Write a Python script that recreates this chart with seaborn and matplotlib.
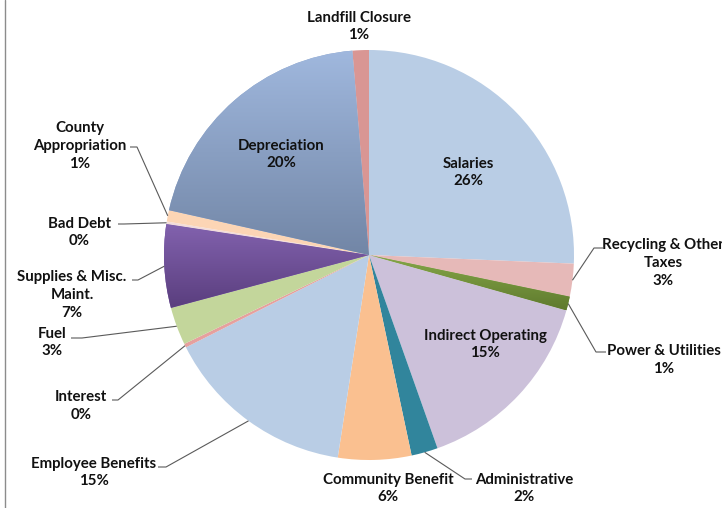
import numpy as np
import matplotlib
matplotlib.use("Agg")
import matplotlib.pyplot as plt
import seaborn as sns
from matplotlib.colors import LinearSegmentedColormap

# ---------------- data ----------------
categories = ["Salaries", "Recycling & Other Taxes", "Power & Utilities",
              "Indirect Operating", "Administrative", "Community Benefit",
              "Employee Benefits", "Interest", "Fuel", "Supplies & Misc. Maint.",
              "Bad Debt", "County Appropriation", "Depreciation", "Landfill Closure"]
shares = [25.8, 2.6, 1.1, 15.3, 2.1, 5.8, 15.2, 0.3, 3.0, 6.6, 0.2, 0.9, 20.3, 1.3]

colors = ["#B9CDE5", "#E6B9B8", "#77933C", "#CCC1DA", "#31859C", "#FAC090",
          "#B9CDE5", "#E6A09E", "#C3D69B", "#7052A0", "#F2DCDB", "#FCD5B5",
          "#8EA5CB", "#D99694"]
gradients = {"Depreciation": ("#A0B8DE", "#7286A6"),
             "Supplies & Misc. Maint.": ("#8262AE", "#5A3E7E"),
             "Power & Utilities": ("#86A848", "#5F7A2E")}

# wrapped label text
wrap = {"Recycling & Other Taxes": "Recycling & Other\nTaxes",
        "County Appropriation": "County\nAppropriation",
        "Supplies & Misc. Maint.": "Supplies & Misc.\nMaint."}

# ---------------- layout (pixel coords, y from top) ----------------
W, H = 722, 508
CX, CY, R = 369, 255, 205
label_pos = {
    "Salaries": (468, 172.5), "Depreciation": (281, 154.5),
    "Indirect Operating": (485, 344.5), "Community Benefit": (388, 488.5),
    "Landfill Closure": (359, 26.5), "Recycling & Other Taxes": (663, 263),
    "Power & Utilities": (664, 360), "Administrative": (524, 488.5),
    "Employee Benefits": (94, 472.5), "Interest": (81, 406),
    "Fuel": (52, 342.5), "Supplies & Misc. Maint.": (72, 295),
    "Bad Debt": (79, 232.5), "County Appropriation": (80, 146),
}
# leader: (label-side end point, knee point)
leaders = {
    "Recycling & Other Taxes": ((603, 248), (594, 248)),
    "Power & Utilities": ((606, 352), (596, 352)),
    "Administrative": ((472, 479), (465, 479)),
    "Employee Benefits": ((158, 467), (166, 467)),
    "Interest": ((112, 400), (118, 400)),
    "Fuel": ((71, 338), (82, 338)),
    "Supplies & Misc. Maint.": ((132, 280), (138, 280)),
    "Bad Debt": ((118, 224), (124, 224)),
    "County Appropriation": ((130, 147), (137, 147)),
}

sns.set_theme(style="white")
plt.rcParams["font.family"] = ["Lato", "DejaVu Sans"]

fig = plt.figure(figsize=(W / 100, H / 100), dpi=100)
ax = fig.add_axes([0, 0, 1, 1])
ax.set_axis_off()

palette = sns.color_palette(colors)
wedges, _ = ax.pie(shares, colors=palette, startangle=90, counterclock=False,
                   center=(CX, H - CY), radius=R, frame=True,
                   wedgeprops=dict(linewidth=0))

# gradient fills
for w, name in zip(wedges, categories):
    if name in gradients:
        top, bot = gradients[name]
        cmap = LinearSegmentedColormap.from_list("g", [bot, top])
        ext = w.get_path().get_extents()
        grad = np.linspace(1, 0, 256).reshape(-1, 1)
        im = ax.imshow(grad, cmap=cmap, extent=[ext.x0, ext.x1, ext.y0, ext.y1],
                       aspect="auto", origin="upper", zorder=w.get_zorder() + 0.1)
        im.set_clip_path(w)

ax.set_xlim(0, W)
ax.set_ylim(0, H)
ax.set_aspect("auto")
ax.set_axis_off()

total = sum(shares)
cum = 0.0
for name, val in zip(categories, shares):
    mid = cum + val / 2
    cum += val
    ang = np.deg2rad(mid / total * 360)
    ax_x = CX + R * np.sin(ang)
    ax_y = CY - R * np.cos(ang)
    pct = int(round(val / total * 100))
    txt = f"{wrap.get(name, name)}\n{pct}%"
    lx, ly = label_pos[name]
    ax.text(lx, H - ly, txt, ha="center", va="center", fontsize=10.8,
            fontweight="bold", color="#111111", linespacing=1.36, zorder=5)
    if name in leaders:
        (ex, ey), (kx, ky) = leaders[name]
        ax.plot([ax_x, kx, ex], [H - ax_y, H - ky, H - ey], color="#5a5a5a",
                lw=0.8, zorder=4, solid_capstyle="butt")

# left border
ax.plot([5, 5], [0, H], color="#8c8c8c", lw=1.0, zorder=6)

fig.savefig("out.png", dpi=100)
